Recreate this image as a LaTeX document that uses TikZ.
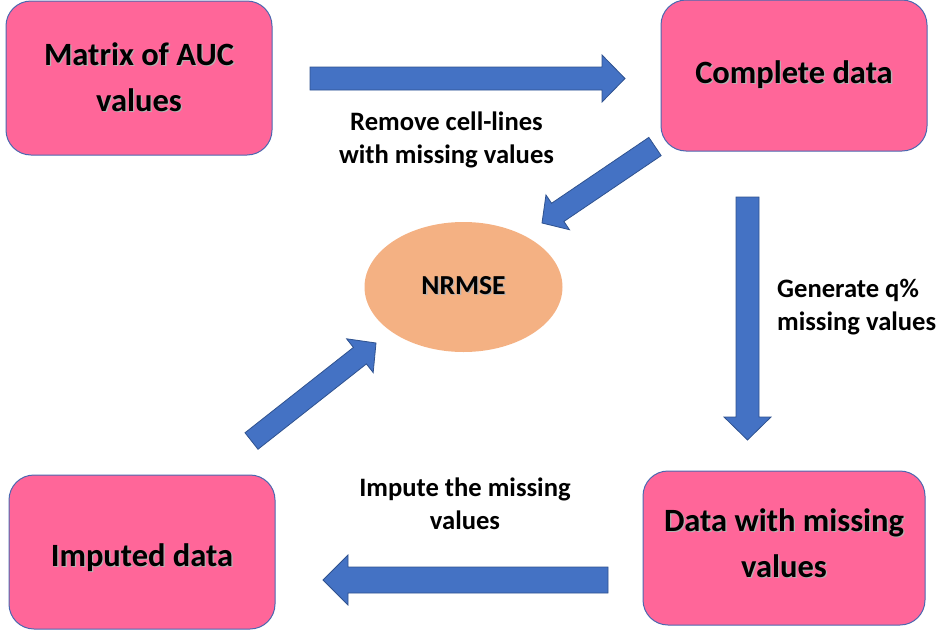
\documentclass[tikz,border=0pt]{standalone}
\usepackage{fontspec}
\setmainfont{Carlito}
\usetikzlibrary{calc,shapes.geometric}
\definecolor{pinkfill}{HTML}{FF6699}
\definecolor{boxline}{HTML}{4A68B0}
\definecolor{arrfill}{HTML}{4472C4}
\definecolor{arrline}{HTML}{2F528F}
\definecolor{ellfill}{HTML}{F4B183}
\newcommand{\shtxt}[1]{\leavevmode\rlap{\kern1.3pt\raisebox{-1.3pt}{\color{black!30}#1}}#1}
\newcommand{\blockarrow}[5]{%
  \coordinate (#1-h) at ($(#2)!#5!(#1)$);
  \filldraw[arrowbody] ($(#1)!#3!90:(#2)$) -- ($(#1-h)!#3!90:(#2)$) -- ($(#1-h)!#4!90:(#2)$)
    -- (#2) -- ($(#1-h)!#4!-90:(#2)$) -- ($(#1-h)!#3!-90:(#2)$) -- ($(#1)!#3!-90:(#2)$) -- cycle;}
\tikzset{
  pinkbox/.style={draw=boxline, line width=1pt, fill=pinkfill, rounded corners=25pt,
    minimum width=266pt, minimum height=154pt, inner sep=0pt},
  boxtext/.style={align=center, inner sep=0pt, font=\fontsize{32.5}{46}\selectfont\bfseries},
  arrowbody/.style={fill=arrfill, draw=arrline, line width=0.8pt, line join=miter},
  labeltext/.style={font=\fontsize{26.6}{33.5}\selectfont\bfseries, inner sep=0pt},
}
\begin{document}
\begin{tikzpicture}[x=1pt,y=-1pt]
\useasboundingbox (0,0) rectangle (936,632);
% boxes
\node[pinkbox] (b1) at (139,78) {};
\node[pinkbox, minimum height=151pt] (b2) at (794,75.5) {};
\node[pinkbox, minimum width=282pt] (b3) at (784,548) {};
\node[pinkbox] (b4) at (142,552) {};
\node[boxtext] (b1t) at (b1.center) {\shtxt{Matrix of AUC}\\\shtxt{values}};
\node[boxtext] (b2t) at (b2.center) {\shtxt{Complete data}};
\node[boxtext] (b3t) at ([yshift=4pt]b3.center) {\shtxt{Data with missing}\\\shtxt{values}};
\node[boxtext] (b4t) at ([yshift=-6pt]b4.center) {\shtxt{Imputed data}};
% ellipse
\node[ellipse, fill=ellfill, minimum width=198pt, minimum height=130pt, inner sep=0pt] (nr) at (463.5,287) {};
% arrow end points
\coordinate (t1) at (310,78.5);   \coordinate (p1) at (625,78.5);
\coordinate (t2) at (655,146.5);  \coordinate (p2) at (542,223);
\coordinate (t3) at (747.5,197);  \coordinate (p3) at (747.5,440);
\coordinate (t4) at (608,580);    \coordinate (p4) at (323,580);
\coordinate (t5) at (251.5,441);  \coordinate (p5) at (376,343);
\blockarrow{t1}{p1}{11.5pt}{23.5pt}{23pt}
\blockarrow{t2}{p2}{11pt}{21pt}{19pt}
\blockarrow{t3}{p3}{11.5pt}{23.5pt}{23pt}
\blockarrow{t4}{p4}{13pt}{25pt}{25pt}
\blockarrow{t5}{p5}{10.5pt}{21.5pt}{20.5pt}
\node[font=\fontsize{27.5}{30}\selectfont\bfseries, inner sep=0pt] (nrt) at ([yshift=1pt]nr.center) {\shtxt{NRMSE}};
% labels
\node[labeltext, align=center] (l1) at (446.5,140) {Remove cell-lines\\with missing values};
\node[labeltext, align=left, anchor=west] (l2) at (777,307) {Generate q\%\\missing values};
\node[labeltext, align=center] (l3) at (465,504) {Impute the missing\\values};
\end{tikzpicture}
\end{document}
